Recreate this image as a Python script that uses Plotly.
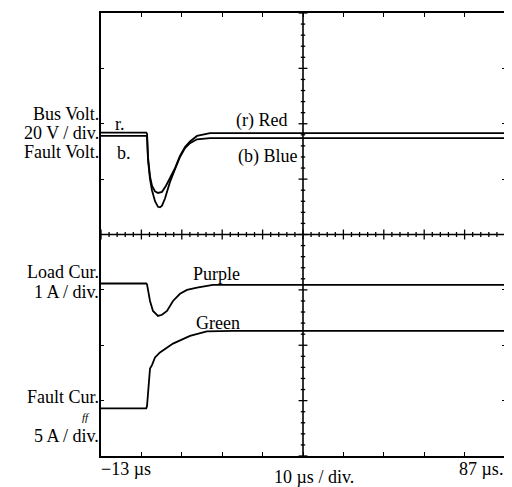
import plotly.graph_objects as go

# Time axis (µs) and trace values in screen divisions (8 vertical divisions, -4..4)
t_red = [-13, -1.8, -1.6, -1.37, -0.87, -0.38, 0.37, 1.11, 2.10, 3.09, 4.08, 5.32, 6.55, 7.79, 9.03, 10.76, 13.98, 87]
v_red = [1.84, 1.84, 1.82, 1.40, 1.05, 0.88, 0.78, 0.75, 0.77, 0.88, 1.02, 1.20, 1.42, 1.58, 1.68, 1.78, 1.83, 1.83]

t_blue = [-13, -1.8, -1.6, -1.37, -0.87, -0.38, 0.37, 1.11, 1.60, 2.10, 2.84, 4.08, 5.32, 6.55, 7.79, 9.03, 10.76, 13.98, 87]
v_blue = [1.78, 1.78, 1.76, 1.35, 1.00, 0.80, 0.60, 0.50, 0.49, 0.52, 0.65, 0.95, 1.18, 1.40, 1.56, 1.65, 1.72, 1.74, 1.74]

t_purple = [-13, -1.8, -1.61, -0.87, -0.13, 1.11, 2.10, 3.34, 4.82, 6.55, 8.29, 10.76, 14.7, 87]
v_purple = [-0.885, -0.885, -0.90, -1.20, -1.38, -1.47, -1.45, -1.38, -1.20, -1.07, -1.00, -0.96, -0.91, -0.91]

t_green = [-13, -1.8, -1.61, -0.87, -0.38, 0.37, 1.60, 4.82, 9.03, 13.2, 19.7, 87]
v_green = [-3.14, -3.14, -3.10, -2.42, -2.36, -2.22, -2.13, -1.97, -1.83, -1.75, -1.74, -1.74]

x_start, x_end, x_div = -13, 87, 10
y_min, y_max = -4, 4

fig = go.Figure()
for tx, vy in [(t_red, v_red), (t_blue, v_blue), (t_purple, v_purple), (t_green, v_green)]:
    fig.add_trace(go.Scatter(x=tx, y=vy, mode="lines", line=dict(color="black", width=1.8),
                             showlegend=False, hoverinfo="skip"))

# central graticule lines with minor ticks
x_mid = (x_start + x_end) / 2
shapes = [
    dict(type="line", x0=x_mid, x1=x_mid, y0=y_min, y1=y_max, line=dict(color="black", width=1.6)),
    dict(type="line", x0=x_start, x1=x_end, y0=0, y1=0, line=dict(color="black", width=1.4)),
]
n = 0
xv = x_start
while xv <= x_end + 1e-9:
    major = (n % 5 == 0)
    h = 0.09 if major else 0.045
    shapes.append(dict(type="line", x0=xv, x1=xv, y0=-h, y1=h, line=dict(color="black", width=1.3)))
    xv += 2
    n += 1
n = 0
yv = y_min
while yv <= y_max + 1e-9:
    major = (n % 5 == 0)
    w = 1.1 if major else 0.55
    shapes.append(dict(type="line", x0=x_mid - w, x1=x_mid + w, y0=yv, y1=yv, line=dict(color="black", width=1.3)))
    yv += 0.2
    n += 1
fig.update_layout(shapes=shapes)

ser = "Liberation Serif"
FS = 18
def ann(text, x, y, xanchor="right", xref="paper", yref="y", size=FS, yanchor="middle", italic=False):
    fig.add_annotation(text=("<i>%s</i>" % text) if italic else text, x=x, y=y, xref=xref, yref=yref,
                       xanchor=xanchor, yanchor=yanchor, showarrow=False,
                       font=dict(family=ser, size=size, color="black"))

# left labels (paper x = 0 is plot left edge)
ann("Bus Volt.", 0.0, 2.18)
ann("20 V / div.", 0.0, 1.83)
ann("Fault Volt.", 0.0, 1.49)
ann("Load Cur.", 0.0, -0.67)
ann("1 A / div.", 0.0, -1.04)
ann("Fault Cur.", 0.0, -2.93)
ann("ff", -0.022, -3.30, size=11, italic=True)
ann("5 A / div.", 0.0, -3.64)
# trace labels
ann("r.", 0.03, 2.0, xanchor="left")
ann("b.", 0.035, 1.47, xanchor="left")
ann("(r) Red", 0.328, 2.06, xanchor="left")
ann("(b) Blue", 0.333, 1.41, xanchor="left")
ann("Purple", 0.224, -0.71, xanchor="left")
ann("Green", 0.229, -1.59, xanchor="left")
# bottom labels
ann("\u221213 \u00b5s", -0.005, -0.003, xanchor="left", yref="paper", yanchor="top")
ann("10 \u00b5s / div.", 0.527, -0.02, xanchor="center", yref="paper", yanchor="top")
ann("87 \u00b5s.", 1.0, -0.003, xanchor="right", yref="paper", yanchor="top")

tick_x = list(range(x_start, x_end + 1, x_div))
fig.update_xaxes(range=[x_start, x_end], tickvals=tick_x, ticks="inside", ticklen=4, tickwidth=1.4,
                 tickcolor="black", showticklabels=False, showgrid=False, zeroline=False,
                 showline=True, linecolor="black", linewidth=1.6, mirror="ticks")
fig.update_yaxes(range=[y_min, y_max], tickvals=list(range(y_min, y_max + 1)), ticks="inside", ticklen=3,
                 tickwidth=1.2, tickcolor="black", showticklabels=False, showgrid=False, zeroline=False,
                 showline=True, linecolor="black", linewidth=1.6, mirror="ticks")
fig.update_layout(width=504, height=479, margin=dict(l=93, r=7, t=3, b=31),
                  paper_bgcolor="white", plot_bgcolor="white",
                  font=dict(family=ser, size=FS, color="black"))
fig.write_html("out.html")
